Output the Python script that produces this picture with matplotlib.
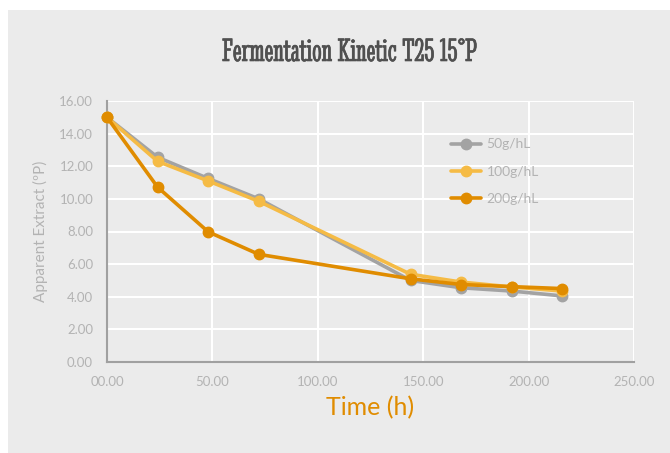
import matplotlib
matplotlib.use("Agg")
import matplotlib.pyplot as plt
from matplotlib.patches import Rectangle
import matplotlib.patheffects as pe

time_h = [0, 24, 48, 72, 144, 168, 192, 216]
s50 = [15.0, 12.55, 11.25, 10.0, 5.0, 4.55, 4.35, 4.05]
s100 = [15.0, 12.3, 11.1, 9.85, 5.38, 4.9, 4.6, 4.35]
s200 = [15.0, 10.72, 7.98, 6.6, 5.1, 4.75, 4.62, 4.5]
series_names = ["50g/hL", "100g/hL", "200g/hL"]
x_ticks = [0, 50, 100, 150, 200, 250]
x_tick_labels = ["00.00", "50.00", "100.00", "150.00", "200.00", "250.00"]
y_ticks = [0, 2, 4, 6, 8, 10, 12, 14, 16]
y_tick_labels = ["0.00", "2.00", "4.00", "6.00", "8.00", "10.00", "12.00", "14.00", "16.00"]

colors = ["#a3a3a3", "#f5bb45", "#e08c00"]
bg = "#ebebeb"
txt_gray = "#b3b3b3"

W, H = 670, 453
fig = plt.figure(figsize=(W / 100, H / 100), dpi=100, facecolor="white")
fig.patches.append(Rectangle((8 / W, 0), 1 - 8 / W, 1 - 10 / H,
                             transform=fig.transFigure, facecolor=bg,
                             edgecolor="none", zorder=-10))

ax = fig.add_axes([107 / W, 1 - 362 / H, (634 - 107) / W, (362 - 101) / H])
ax.set_facecolor(bg)
ax.set_xlim(0, 250)
ax.set_ylim(0, 16)

for vals, c, name in zip([s50, s100, s200], colors, series_names):
    ax.plot(time_h, vals, color=c, lw=2.6, marker="o", ms=7.5, label=name,
            solid_capstyle="round", zorder=3, clip_on=False)

ax.set_xticks(x_ticks)
ax.set_xticklabels(x_tick_labels)
ax.set_yticks(y_ticks)
ax.set_yticklabels(y_tick_labels)
ax.grid(True, color="white", lw=1.5, zorder=0)
ax.set_axisbelow(True)
ax.tick_params(length=0, colors=txt_gray, labelsize=9.5)
ax.tick_params(axis="y", pad=10)
ax.tick_params(axis="x", pad=10)
for lbl in ax.get_xticklabels() + ax.get_yticklabels():
    lbl.set_fontfamily("Lato")
for s in ["top", "right"]:
    ax.spines[s].set_visible(False)
for s in ["left", "bottom"]:
    ax.spines[s].set_color("#a0a0a0")
    ax.spines[s].set_linewidth(1.5)

ax.set_xlabel("Time (h)", color="#e08c00", fontsize=18, family="Lato", labelpad=6)
ax.set_ylabel("Apparent Extract (ºP)", color=txt_gray, fontsize=11,
              family="Lato", labelpad=8)

fig.text(350 / W, 1 - 53 / H, "Fermentation Kinetic T25 15°P", ha="center", va="center",
         fontsize=24, color="#505050",
         family=["Stint Ultra Condensed", "Roboto Slab", "DejaVu Serif"],
         path_effects=[pe.withStroke(linewidth=0.45, foreground="#505050")])

leg = ax.legend(loc="upper left", bbox_to_anchor=(438 / W, 1 - 126 / H),
                bbox_transform=fig.transFigure, frameon=False, fontsize=10,
                handlelength=2.2, labelspacing=1.1, handletextpad=0.4)
for t in leg.get_texts():
    t.set_color(txt_gray)
    t.set_fontfamily("Lato")

fig.savefig("out.png", dpi=100, facecolor="white")
